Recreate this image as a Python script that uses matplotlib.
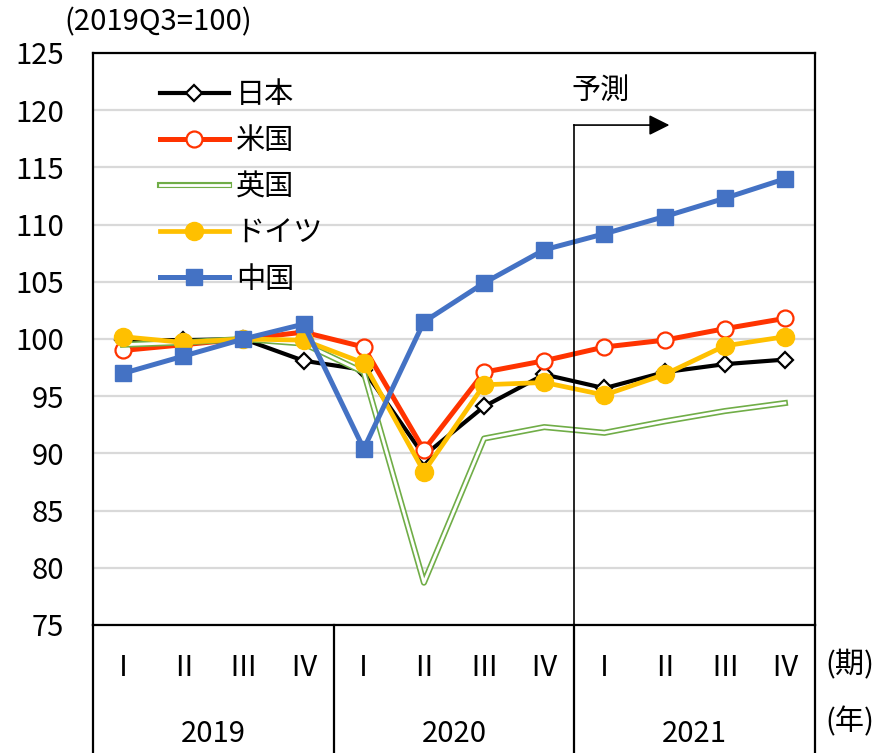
import matplotlib
matplotlib.use("Agg")
import matplotlib.pyplot as plt
import matplotlib.transforms as mtransforms
from matplotlib.legend_handler import HandlerTuple

plt.rcParams['font.family'] = ['Noto Sans CJK JP', 'DejaVu Sans']

quarters = ['Ⅰ', 'Ⅱ', 'Ⅲ', 'Ⅳ'] * 3
years = ['2019', '2020', '2021']

japan = [99.9, 99.9, 100.0, 98.1, 97.3, 89.8, 94.1, 96.9, 95.7, 97.1, 97.8, 98.2]
usa = [99.0, 99.5, 100.0, 100.6, 99.3, 90.3, 97.1, 98.1, 99.3, 99.9, 100.9, 101.8]
uk = [99.5, 99.7, 100.0, 99.6, 97.1, 78.7, 91.3, 92.3, 91.8, 92.8, 93.7, 94.4]
germany = [100.2, 99.7, 100.0, 99.9, 97.9, 88.4, 96.0, 96.2, 95.1, 96.9, 99.4, 100.2]
china = [97.0, 98.5, 100.0, 101.3, 90.4, 101.5, 104.9, 107.8, 109.2, 110.7, 112.3, 114.0]

names = ['日本', '米国', '英国', 'ドイツ', '中国']

fig = plt.figure(figsize=(8.75, 7.53), dpi=100)
ax = fig.add_axes([93/875, 128/753, (815-93)/875, (625-53)/753])

x = list(range(12))
FS = 21

ax.set_ylim(75, 125)
ax.set_xlim(-0.5, 11.5)
ax.set_yticks(range(75, 126, 5))
ax.yaxis.grid(True, color='#d9d9d9', lw=1.6, zorder=0)
ax.set_axisbelow(True)
ax.set_xticks([])
ax.tick_params(axis='y', length=0, pad=21, labelsize=FS)
for s in ax.spines.values():
    s.set_linewidth(1.6)
    s.set_color('black')

h_jp, = ax.plot(x, japan, color='black', lw=3.0, marker='D', ms=8.5,
                mfc='white', mec='black', mew=1.6, zorder=3)
h_us, = ax.plot(x, usa, color='#ff3300', lw=3.6, marker='o', ms=11.5,
                mfc='white', mec='#ff3300', mew=1.6, zorder=4)
h_uk1, = ax.plot(x, uk, color='#70ad47', lw=4.4, zorder=5)
h_uk2, = ax.plot(x, uk, color='white', lw=2.0, zorder=5.1)
h_de, = ax.plot(x, germany, color='#ffc000', lw=3.4, marker='o', ms=13,
                mfc='#ffc000', mec='#ffc000', zorder=6)
h_cn, = ax.plot(x, china, color='#4472c4', lw=3.6, marker='s', ms=11,
                mfc='#4472c4', mec='#4472c4', zorder=7)

# forecast marker
ax.plot([7.5, 7.5], [75, 118.7], color='black', lw=1.2, zorder=8)
ax.annotate('', xy=(9.08, 118.7), xytext=(7.49, 118.7),
            arrowprops=dict(arrowstyle='-|>,head_length=0.5,head_width=0.25',
                            color='black', lw=1.2, mutation_scale=25,
                            shrinkA=0, shrinkB=0), zorder=8)
ax.text(7.45, 121.7, '予測', fontsize=FS, ha='left', va='center')

# legend
leg = ax.legend([h_jp, h_us, (h_uk1, h_uk2), h_de, h_cn], names,
                handler_map={tuple: HandlerTuple(ndivide=1, pad=0)},
                loc='upper left', bbox_to_anchor=(0.093, 0.952),
                frameon=False, fontsize=FS, handlelength=2.35,
                handletextpad=0.24, labelspacing=0.55, borderaxespad=0,
                borderpad=0)

# category table below the axis
trans = mtransforms.blended_transform_factory(ax.transData, ax.transAxes)
for xb in [-0.5, 3.5, 7.5, 11.5]:
    ax.plot([xb, xb], [0, -0.3], transform=trans, color='black', lw=1.6,
            clip_on=False)
for i, q in enumerate(quarters):
    ax.text(i, -0.075, q, transform=trans, fontsize=FS, ha='center', va='center')
for j, yr in enumerate(years):
    ax.text(4*j + 1.5, -0.19, yr, transform=trans, fontsize=FS, ha='center',
            va='center')
fig.text(850/875, 1 - 665/753, '(期)', fontsize=FS, ha='center', va='center')
fig.text(850/875, 1 - 722/753, '(年)', fontsize=FS, ha='center', va='center')

fig.text(64/875, 1 - 22/753, '(2019Q3=100)', fontsize=FS, ha='left', va='center')

fig.savefig('out.png', dpi=100)
